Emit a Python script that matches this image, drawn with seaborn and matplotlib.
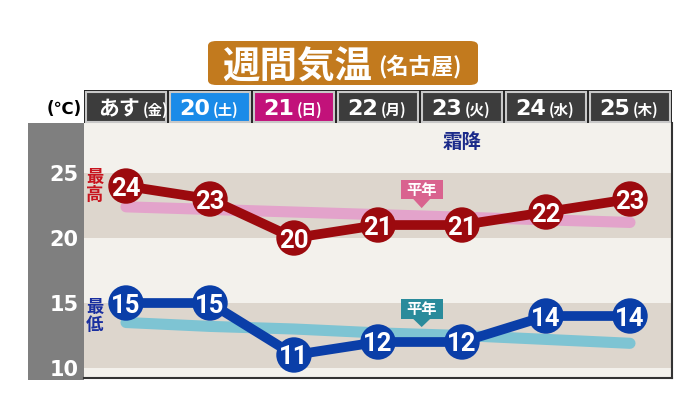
import matplotlib
matplotlib.use("Agg")
import numpy as np
import pandas as pd
import matplotlib.pyplot as plt
import seaborn as sns
from matplotlib.patches import Rectangle, FancyBboxPatch, Polygon
from matplotlib import transforms

# ---- data ----
days = ["あす", "20", "21", "22", "23", "24", "25"]
weekdays = ["金", "土", "日", "月", "火", "水", "木"]
high = [24, 23, 20, 21, 21, 22, 23]
low = [15, 15, 11, 12, 12, 14, 14]
high_normal = [22.4, 22.2, 22.0, 21.8, 21.6, 21.4, 21.2]
low_normal = [13.5, 13.2, 13.0, 12.7, 12.5, 12.2, 11.9]
yticks = [10, 15, 20, 25]
title = "週間気温"
place = "(名古屋)"
note = "霜降"
normal_label = "平年"

sns.set_theme(style="white")
plt.rcParams['font.family'] = ['DejaVu Sans', 'Noto Sans CJK JP']
CJK = ['Noto Sans CJK JP', 'DejaVu Sans']
NUM = ['Roboto', 'DejaVu Sans']

W, H = 700, 393
def fy(py):
    return 1 - py / H

fig = plt.figure(figsize=(7, 3.93), dpi=100)
fig.patch.set_facecolor('white')

# gray strip behind y tick labels
fig.patches.append(Rectangle((28 / W, fy(380)), (84 - 28) / W, (380 - 123) / H,
                             transform=fig.transFigure, facecolor='#7f7f7f',
                             edgecolor='none', zorder=-5))

ax = fig.add_axes([84 / W, fy(378), (672 - 84) / W, (378 - 123) / H])
ax.set_zorder(1)

ax.set_facecolor('#f3f1ec')
ax.axhspan(20, 25, color='#ddd6cd', zorder=0, lw=0)
ax.axhspan(10, 15, color='#ddd6cd', zorder=0, lw=0)

df = pd.DataFrame({"x": np.arange(len(days)), "high": high, "low": low,
                   "high_normal": high_normal, "low_normal": low_normal})

sns.lineplot(data=df, x="x", y="high_normal", color="#e3a3cb", lw=8,
             solid_capstyle='round', ax=ax, zorder=2)
sns.lineplot(data=df, x="x", y="low_normal", color="#7ec4d3", lw=8,
             solid_capstyle='round', ax=ax, zorder=2)
sns.lineplot(data=df, x="x", y="high", color="#9c0a0e", lw=7, ax=ax, zorder=3)
sns.lineplot(data=df, x="x", y="low", color="#0a3ea8", lw=7, ax=ax, zorder=3)
sns.scatterplot(data=df, x="x", y="high", color="#9c0a0e", s=650,
                edgecolor='none', ax=ax, zorder=4)
sns.scatterplot(data=df, x="x", y="low", color="#0a3ea8", s=650,
                edgecolor='none', ax=ax, zorder=4)

for i, v in enumerate(high):
    ax.text(i, v, str(v), ha='center', va='center_baseline', color='white',
            fontsize=18.5, fontweight='bold', family=NUM, zorder=5)
for i, v in enumerate(low):
    ax.text(i, v, str(v), ha='center', va='center_baseline', color='white',
            fontsize=18.5, fontweight='bold', family=NUM, zorder=5)

ax.set_xlim(-0.5, 6.5)
ax.set_ylim(9.23, 28.85)
ax.set_xticks([])
ax.set_yticks(yticks)
ax.set_yticklabels([str(t) for t in yticks], color='white', fontsize=15,
                   fontweight='bold')
ax.tick_params(axis='y', length=0, pad=4)
ax.set_xlabel('')
ax.set_ylabel('')
for s in ['left', 'top']:
    ax.spines[s].set_visible(False)
for s in ['right', 'bottom']:
    ax.spines[s].set_color('#333333')
    ax.spines[s].set_linewidth(1.5)

# ---- header row ----
blend = transforms.blended_transform_factory(ax.transData, fig.transFigure)
cell_colors = ['#3c3c3c', '#1a8be8', '#c2127a', '#3c3c3c', '#3c3c3c', '#3c3c3c', '#3c3c3c']
ax.add_patch(Rectangle((-0.5, fy(123)), 7.0, (123 - 90) / H, transform=blend,
                       facecolor='#222222', edgecolor='none', clip_on=False, zorder=6))
for i, (d, w) in enumerate(zip(days, weekdays)):
    ax.add_patch(Rectangle((i - 0.48, fy(121.5)), 0.96, (121.5 - 91.5) / H,
                           transform=blend, facecolor=cell_colors[i],
                           edgecolor='#c8c8c8', lw=1.5, clip_on=False, zorder=7))
    split = i + (0.17 if i == 0 else 0.0)
    ax.text(split, fy(107), d, transform=blend, ha='right', va='center_baseline',
            color='white', fontsize=16 if i else 15, fontweight='bold',
            family=CJK if i == 0 else ['DejaVu Sans'], zorder=8)
    ax.text(split + 0.03, fy(108), "(" + w + ")", transform=blend, ha='left',
            va='center_baseline', color='white', fontsize=10.5, fontweight='bold',
            family=CJK, zorder=8)

fig.text(64 / W, fy(107), "(℃)", ha='center', va='center_baseline', color='black',
         fontsize=12, fontweight='bold', family=['DejaVu Sans'])

# ---- title ----
fig.patches.append(FancyBboxPatch((208 / W, fy(85)), 270 / W, 44 / H,
                                  boxstyle="round,pad=0,rounding_size=0.012",
                                  transform=fig.transFigure, facecolor='#c27a1e',
                                  edgecolor='none', zorder=1))
fig.text(297 / W, fy(63), title, ha='center', va='center_baseline', color='white',
         fontsize=27, fontweight='bold', family=CJK, zorder=2)
fig.text(420 / W, fy(64), place, ha='center', va='center_baseline', color='white',
         fontsize=16, fontweight='bold', family=CJK, zorder=2)

# ---- annotations ----
ax.text(4, 27.5, note, ha='center', va='center_baseline', color='#1b2a8a',
        fontsize=14, fontweight='bold', family=CJK, zorder=5)
ax.text(-0.37, 24.0, "最\n高", ha='center', va='center', color='#c8141e',
        fontsize=12.5, fontweight='bold', family=CJK, linespacing=1.0, zorder=5)
ax.text(-0.37, 14.0, "最\n低", ha='center', va='center', color='#1a2fa0',
        fontsize=12.5, fontweight='bold', family=CJK, linespacing=1.0, zorder=5)

def callout(xc, top, bottom, tip, color):
    hw = 0.25
    ax.add_patch(Rectangle((xc - hw, bottom), 2 * hw, top - bottom,
                           facecolor=color, edgecolor='none', zorder=5))
    ax.add_patch(Polygon([(xc - 0.1, bottom), (xc + 0.1, bottom), (xc, tip)],
                         closed=True, facecolor=color, edgecolor='none', zorder=5))
    ax.text(xc, (top + bottom) / 2, normal_label, ha='center', va='center',
            color='white', fontsize=11, fontweight='bold', family=CJK, zorder=6)

callout(3.52, 24.46, 23.0, 22.3, '#d9638f')
callout(3.52, 15.31, 13.77, 13.15, '#2a8b9b')

fig.savefig("out.png", dpi=100, facecolor='white')
